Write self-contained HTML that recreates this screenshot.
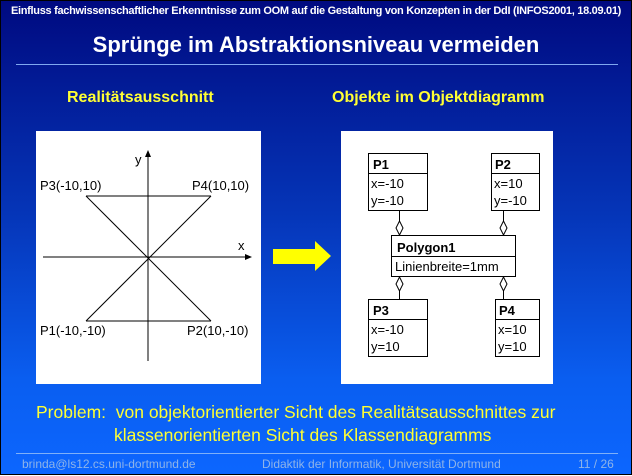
<!DOCTYPE html>
<html><head><meta charset="utf-8"><style>
body{margin:0;width:632px;height:475px;overflow:hidden;font-family:"Liberation Sans",sans-serif}
#s{position:relative;width:630px;height:473px;border:1px solid #000;background:linear-gradient(180deg,#000a80 0%,#0535b8 45%,#0a5ef0 80%,#0c66ff 100%);}
.t{position:absolute;white-space:nowrap}
</style></head><body><div id="s">
<div class="t" style="left:0;width:630px;text-align:center;top:4px;font-size:11px;font-weight:bold;color:#fff;letter-spacing:-0.3px">Einfluss fachwissenschaftlicher Erkenntnisse zum OOM auf die Gestaltung von Konzepten in der DdI (INFOS2001, 18.09.01)</div>
<div class="t" style="left:0;width:630px;text-align:center;top:31px;font-size:22px;font-weight:bold;color:#fff">Sprünge im Abstraktionsniveau vermeiden</div>
<div style="position:absolute;left:15px;top:63px;width:602px;height:1px;background:#7fa8f0"></div>
<div class="t" style="left:66px;top:88px;font-size:16px;font-weight:bold;color:#ffff33">Realitätsausschnitt</div>
<div class="t" style="left:331px;top:88px;font-size:16px;font-weight:bold;color:#ffff33">Objekte im Objektdiagramm</div>
<svg style="position:absolute;left:0;top:0" width="632" height="475">
<rect x="35" y="130" width="225" height="253" fill="#fff"/>
<g stroke="#000" stroke-width="1" fill="none">
<line x1="147" y1="360" x2="147" y2="152"/>
<line x1="42" y1="256" x2="248" y2="256"/>
<line x1="85" y1="195" x2="210" y2="195"/><line x1="85" y1="320" x2="210" y2="320"/>
<line x1="85" y1="195" x2="210" y2="320"/><line x1="85" y1="320" x2="210" y2="195"/>
</g>
<polygon points="147,149 144,156 150,156" fill="#000"/>
<polygon points="251,256 244,253 244,259" fill="#000"/>
<g font-family="Liberation Sans" font-size="13" fill="#000">
<text x="134" y="163">y</text><text x="237" y="249">x</text>
<text x="39" y="189">P3(-10,10)</text><text x="191" y="189">P4(10,10)</text>
<text x="39" y="334">P1(-10,-10)</text><text x="186" y="334">P2(10,-10)</text>
</g>
<polygon points="272,248 314,248 314,240 330,255 314,270 314,263 272,263" fill="#ffff00"/>
<rect x="340" y="130" width="212" height="253" fill="#fff"/>
<g stroke="#000" stroke-width="1" fill="#fff">
<rect x="367.5" y="152.5" width="59" height="57"/><line x1="367" y1="172.5" x2="427" y2="172.5"/>
<rect x="490.5" y="152.5" width="48" height="57"/><line x1="490" y1="172.5" x2="539" y2="172.5"/>
<rect x="390.5" y="234.5" width="124" height="41"/><line x1="390" y1="255.5" x2="515" y2="255.5"/>
<rect x="367.5" y="298.5" width="59" height="57"/><line x1="367" y1="318.5" x2="427" y2="318.5"/>
<rect x="494.5" y="298.5" width="44" height="57"/><line x1="494" y1="318.5" x2="539" y2="318.5"/>
<line x1="398.5" y1="210" x2="398.5" y2="220"/><polygon points="398.5,220 402,227 398.5,234 395,227"/>
<line x1="502.5" y1="210" x2="502.5" y2="220"/><polygon points="502.5,220 506,227 502.5,234 499,227"/>
<polygon points="398.5,276 402,283 398.5,290 395,283"/><line x1="398.5" y1="290" x2="398.5" y2="298"/>
<polygon points="502.5,276 506,283 502.5,290 499,283"/><line x1="502.5" y1="290" x2="502.5" y2="298"/>
</g>
<g font-family="Liberation Sans" font-size="13" fill="#000">
<text x="372" y="168" font-weight="bold">P1</text><text x="370" y="187">x=-10</text><text x="370" y="204">y=-10</text>
<text x="494" y="168" font-weight="bold">P2</text><text x="493" y="187">x=10</text><text x="493" y="204">y=-10</text>
<text x="396" y="251" font-weight="bold">Polygon1</text><text x="394" y="270">Linienbreite=1mm</text>
<text x="372" y="314" font-weight="bold">P3</text><text x="370" y="333">x=-10</text><text x="370" y="350">y=10</text>
<text x="498" y="314" font-weight="bold">P4</text><text x="497" y="333">x=10</text><text x="497" y="350">y=10</text>
</g>
</svg>
<div class="t" style="left:35px;top:400px;font-size:17.5px;color:#ffff33;line-height:23px">Problem:&nbsp; von objektorientierter Sicht des Realitätsausschnittes zur<br><span style="padding-left:78px">klassenorientierten Sicht des Klassendiagramms</span></div>
<div style="position:absolute;left:15px;top:452px;width:602px;height:1px;background:#7fb0f8"></div>
<div class="t" style="left:21px;top:456px;font-size:12px;color:#8fb4e8">brinda@ls12.cs.uni-dortmund.de</div>
<div class="t" style="left:261px;top:456px;font-size:12px;color:#8fb4e8">Didaktik der Informatik, Universität Dortmund</div>
<div class="t" style="left:577px;top:456px;font-size:12px;color:#8fb4e8">11 / 26</div>
</div></body></html>
